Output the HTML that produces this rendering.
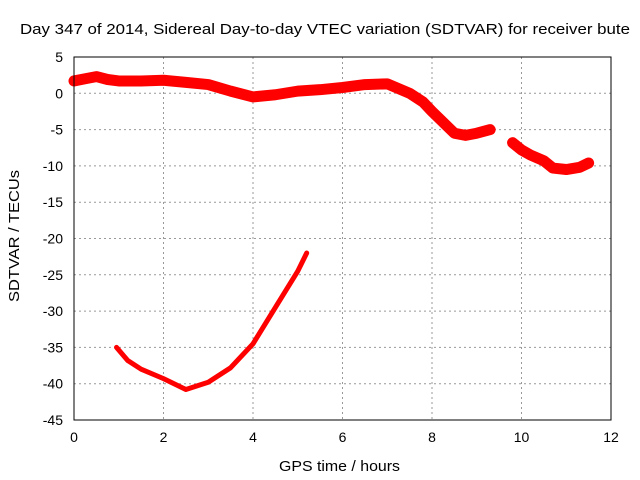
<!DOCTYPE html>
<html><head><meta charset="utf-8"><style>
body{margin:0;background:#fff}
svg{display:block;font-family:"Liberation Sans",sans-serif}
</style></head><body>
<svg id="c" width="640" height="480">
<text x="20" y="34" font-size="15" textLength="610" lengthAdjust="spacingAndGlyphs">Day 347 of 2014, Sidereal Day-to-day VTEC variation (SDTVAR) for receiver bute</text>
<text x="279" y="471" font-size="15" textLength="121" lengthAdjust="spacingAndGlyphs">GPS time / hours</text>
<text transform="translate(19,302) rotate(-90)" font-size="15" textLength="132" lengthAdjust="spacingAndGlyphs">SDTVAR / TECUs</text>
<g id="grid"></g><g id="marks"></g>
<rect x="74" y="57" width="537" height="363" fill="none" stroke="#000"/>
</svg>
<script>
const xTicks=[0,2,4,6,8,10,12];
const yTicks=[5,0,-5,-10,-15,-20,-25,-30,-35,-40,-45];
const bandAX=[0,0.25,0.5,0.75,1,1.5,2,2.5,3,3.5,4,4.5,5,5.5,6,6.5,7,7.5,7.8,8.0,8.25,8.5,8.75,9,9.3];
const bandAY=[1.7,2.0,2.3,1.9,1.7,1.7,1.8,1.5,1.2,0.3,-0.5,-0.2,0.3,0.5,0.8,1.2,1.3,0,-1.2,-2.5,-4,-5.5,-5.8,-5.5,-5];
const bandBX=[9.8,10.0,10.2,10.5,10.7,11.0,11.3,11.5];
const bandBY=[-6.8,-7.8,-8.5,-9.3,-10.3,-10.5,-10.2,-9.6];
const curveX=[0.95,1.2,1.5,2,2.5,3,3.5,4,4.5,5,5.2];
const curveY=[-35,-36.8,-38,-39.3,-40.8,-39.8,-37.8,-34.5,-29.5,-24.5,-22];
const X=v=>74+v*(537/12), Y=v=>57+(5-v)*(363/50);
const ns="http://www.w3.org/2000/svg";
const g=document.getElementById('grid'), m=document.getElementById('marks');
function el(p,t,a){const e=document.createElementNS(ns,t);for(const k in a)e.setAttribute(k,a[k]);p.appendChild(e);return e;}
xTicks.forEach(t=>{
 if(t>0&&t<12){const l=el(g,'line',{x1:X(t),x2:X(t),y1:57,y2:420,stroke:'#999','stroke-dasharray':'2,3'});
 }
 const tx=el(g,'text',{x:X(t),y:442,'font-size':14,'text-anchor':'middle'});tx.textContent=t;
 
});
yTicks.forEach(t=>{
 if(t<5&&t>-45){const l=el(g,'line',{x1:74,x2:611,y1:Y(t),y2:Y(t),stroke:'#999','stroke-dasharray':'2,3'});
 }
 const tx=el(g,'text',{x:63,y:Y(t)+5,'font-size':14,'text-anchor':'end'});tx.textContent=t;
 
});
function line(xs,ys,w,name){
 const p=el(m,'polyline',{points:xs.map((x,i)=>X(x)+','+Y(ys[i])).join(' '),fill:'none',stroke:'#f00','stroke-width':w,'stroke-linejoin':'round','stroke-linecap':'round'});
 
}
line(bandAX,bandAY,11,'sdtvar-band-main');
line(bandBX,bandBY,11,'sdtvar-band-late');
line(curveX,curveY,5,'sdtvar-curve');
</script>
</body></html>
